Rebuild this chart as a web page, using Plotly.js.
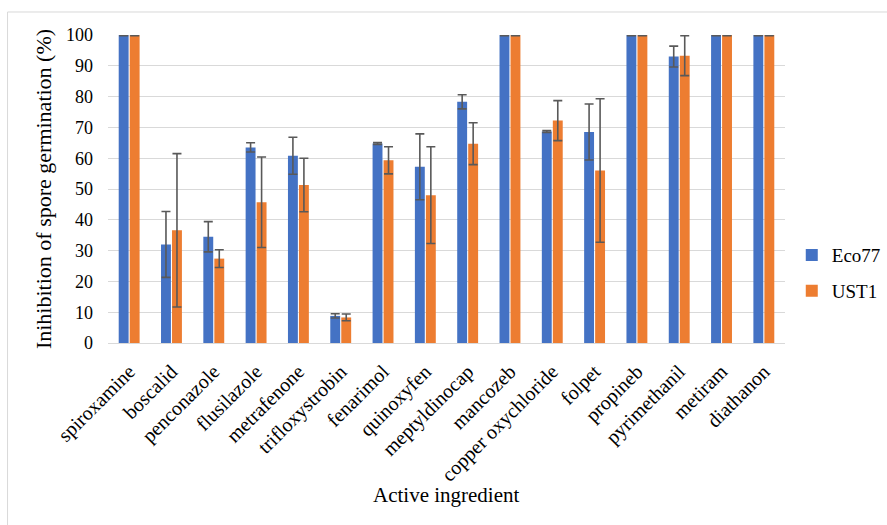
<!DOCTYPE html>
<html>
<head>
<meta charset="utf-8">
<script src="https://cdn.plot.ly/plotly-3.0.1.min.js"></script>
<style>html,body{margin:0;padding:0;background:#fff;}#chart{width:887px;height:525px;}</style>
</head>
<body>
<div id="chart"></div>
<script>
const categories = ["spiroxamine","boscalid","penconazole","flusilazole","metrafenone","trifloxystrobin","fenarimol","quinoxyfen","meptyldinocap","mancozeb","copper oxychloride","folpet","propineb","pyrimethanil","metiram","diathanon"];
const eco77 = [100, 32.0, 34.5, 63.5, 60.8, 8.8, 64.8, 57.2, 78.3, 100, 68.7, 68.5, 100, 93.0, 100, 100];
const eco77Err = [0.2, 10.7, 4.9, 1.5, 6.0, 0.7, 0.3, 10.7, 2.3, 0.2, 0.3, 9.1, 0.2, 3.4, 0.2, 0.2];
const ust1 = [100, 36.6, 27.4, 45.7, 51.3, 8.3, 59.3, 48.0, 64.7, 100, 72.2, 56.0, 100, 93.3, 100, 100];
const ust1Err = [0.2, 24.9, 2.9, 14.7, 8.7, 1.1, 4.4, 15.7, 6.8, 0.2, 6.5, 23.3, 0.2, 6.5, 0.2, 0.2];
const xTitle = "Active ingredient";
const yTitle = "Inihibition of spore germination (%)";

const font = "Liberation Serif, Times New Roman, serif";
const errStyle = {type: "data", visible: true, color: "#595959", thickness: 1.6, width: 4.5};

const traces = [
  {type: "bar", name: "Eco77", x: categories, y: eco77, legendgroup: "a", cliponaxis: false,
   marker: {color: "#4472C4"},
   error_y: Object.assign({array: eco77Err}, errStyle)},
  {type: "bar", name: "UST1", x: categories, y: ust1, legendgroup: "b", cliponaxis: false,
   marker: {color: "#ED7D31"},
   error_y: Object.assign({array: ust1Err}, errStyle)}
];

const layout = {
  width: 887, height: 525,
  margin: {l: 108, r: 102, t: 35, b: 182, autoexpand: false},
  paper_bgcolor: "#fff", plot_bgcolor: "#fff",
  font: {family: font, size: 18, color: "#000"},
  barmode: "group", bargap: 0.48, bargroupgap: 0.1,
  showlegend: true,
  legend: {x: 1.01, y: 0.227, xanchor: "left", yanchor: "middle",
           font: {family: font, size: 19, color: "#000"},
           traceorder: "grouped", tracegroupgap: 8, itemwidth: 30},
  xaxis: {
    type: "category", tickangle: -45, showgrid: false, automargin: false,
    showline: true, linecolor: "#d9d9d9", linewidth: 1,
    ticks: "", ticklabelstandoff: 8,
    tickfont: {family: font, size: 20, color: "#000"}
  },
  yaxis: {
    range: [0, 100], dtick: 10, showgrid: true, gridcolor: "#d9d9d9", gridwidth: 1,
    zeroline: false, showline: false, ticks: "", automargin: false,
    ticklabelstandoff: 14,
    tickfont: {family: font, size: 18, color: "#000"},
    title: {text: yTitle, font: {family: font, size: 22, color: "#000"}, standoff: 8}
  },
  annotations: [{text: xTitle, xref: "paper", yref: "paper", x: 0.5, y: -0.4935,
                 xanchor: "center", yanchor: "middle", showarrow: false,
                 font: {family: font, size: 21, color: "#000"}}],
  shapes: [{type: "rect", xref: "paper", yref: "paper",
            x0: -0.1484, x1: 1.2, y0: -0.65, y1: 1.0747,
            line: {color: "#d9d9d9", width: 1}, fillcolor: "rgba(0,0,0,0)", layer: "below"}]
};

Plotly.newPlot("chart", traces, layout, {displayModeBar: false, staticPlot: true});
</script>
</body>
</html>
